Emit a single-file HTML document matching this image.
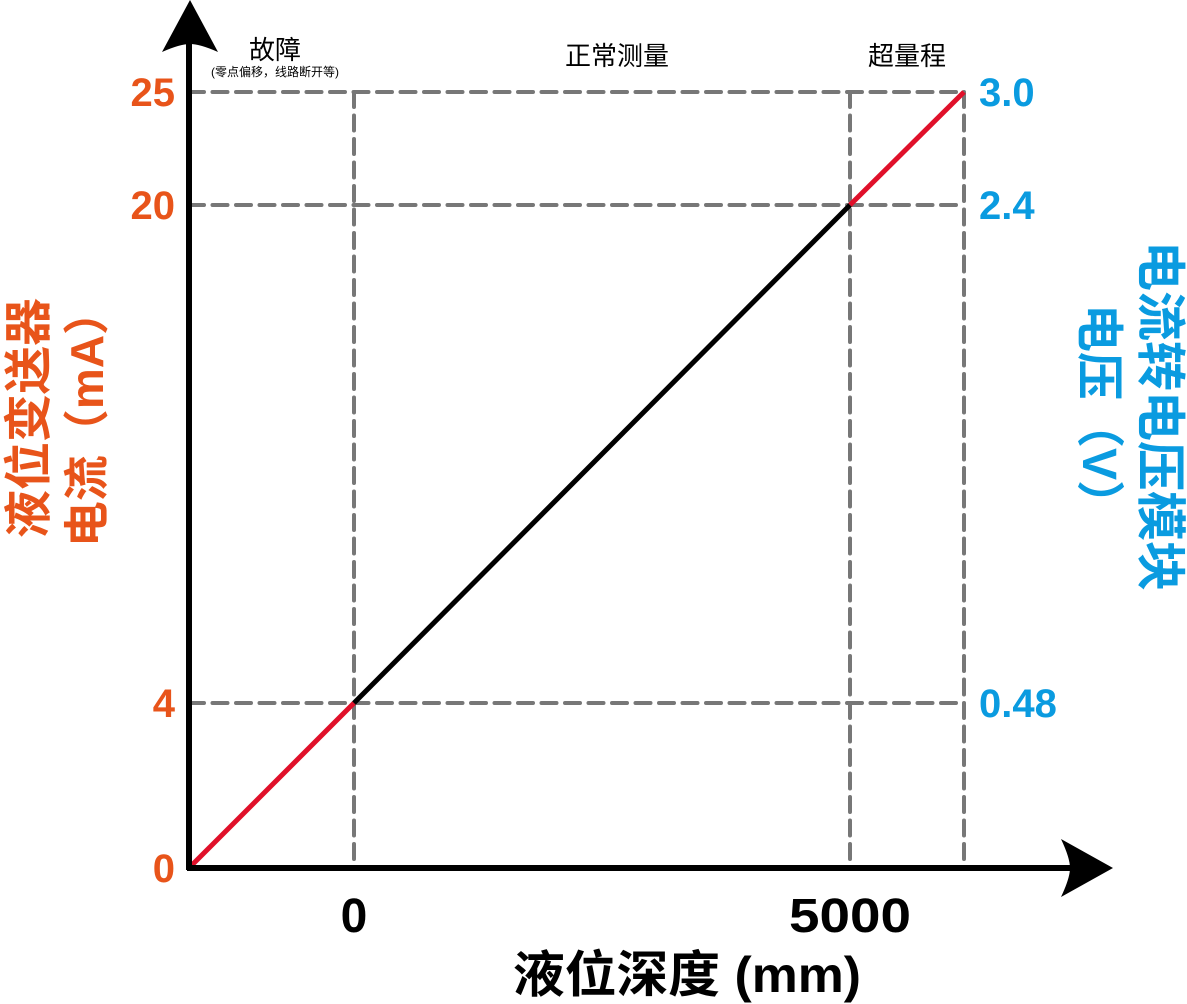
<!DOCTYPE html>
<html><head><meta charset="utf-8"><style>
html,body{margin:0;padding:0;background:#fff;}
svg{display:block;font-family:"Liberation Sans","Noto Sans CJK SC",sans-serif;}
</style></head><body>
<svg id="chart" width="1187" height="1004" viewBox="0 0 1187 1004">
<g id="grid"></g>
<g id="series"></g>
<g id="axes"></g>
<g id="labels"></g>
</svg>
<script>
// Data
const yTickValues = [0, 4, 20, 25];
const yTickLabels = ["0", "4", "20", "25"];
const voltTickLabels = ["0.48", "2.4", "3.0"];
const voltTickCurrents = [4, 20, 25];
const xTickValues = [0, 5000];
const xTickLabels = ["0", "5000"];
const lineDepth = [-1250, 0, 5000, 6562.5];
const lineCurrent = [0, 4, 20, 25];
const lineSegColors = ["#e0102a", "#000000", "#e0102a"];
const regionNames = ["故障", "正常测量", "超量程"];

// schematic piecewise axes
function piece(dom, rng){return v=>{for(let i=0;i<dom.length-1;i++){if(v<=dom[i+1]||i===dom.length-2){const t=(v-dom[i])/(dom[i+1]-dom[i]);return rng[i]+t*(rng[i+1]-rng[i]);}}};}
const yScale = piece([0,4,20,25],[868,703,205,92]);
const xScale = piece([-1250,0,5000,6562.5],[189,354,850,964]);
const NS="http://www.w3.org/2000/svg";
function mk(tag,attrs,parent,text){const e=document.createElementNS(NS,tag);for(const k in attrs)e.setAttribute(k,attrs[k]);if(text!==undefined)e.textContent=text;parent.appendChild(e);return e;}
const grid=document.getElementById('grid'),series=document.getElementById('series'),axes=document.getElementById('axes'),labels=document.getElementById('labels');
const dash={stroke:"#777","stroke-width":4,"stroke-dasharray":"15 8.5","stroke-linecap":"round",fill:"none"};
const xMin=xScale(lineDepth[0]), xMax=xScale(lineDepth[3]), yTop=yScale(25), y0=yScale(0);
yTickValues.forEach((v,i)=>{ if(v===0)return;
 const l=mk('line',Object.assign({x1:xMin,x2:xMax,y1:yScale(v),y2:yScale(v)},dash),grid);
 
 
});
[0,5000,6562.5].forEach(d=>{
 const l=mk('line',Object.assign({x1:xScale(d),x2:xScale(d),y1:yTop,y2:y0},dash),grid);
 
 
});
for(let i=0;i<lineDepth.length-1;i++){
 const l=mk('line',{x1:xScale(lineDepth[i]),y1:yScale(lineCurrent[i]),x2:xScale(lineDepth[i+1]),y2:yScale(lineCurrent[i+1]),stroke:lineSegColors[i],"stroke-width":5},series);
 
 
}
let a=mk('line',{x1:189,y1:870,x2:189,y2:40,stroke:"#000","stroke-width":6},axes);

a=mk('line',{x1:187,y1:868,x2:1080,y2:868,stroke:"#000","stroke-width":6},axes);

a=mk('path',{d:"M190,0 L218,52 Q200,44 190,44 Q180,44 162,52 Z",fill:"#000"},axes);

a=mk('path',{d:"M1113,868 L1061,897 Q1070,878 1070,868 Q1070,858 1061,839 Z",fill:"#000"},axes);

yTickValues.forEach((v,i)=>{
 const t=mk('text',{x:175,y:yScale(v)+14,"text-anchor":"end","font-size":40,"font-weight":"bold",fill:"#e8541a"},labels,yTickLabels[i]);
 
 
});
voltTickCurrents.forEach((c,i)=>{
 const t=mk('text',{x:979,y:yScale(c)+14,"font-size":40,"font-weight":"bold",fill:"#0a9be0"},labels,voltTickLabels[i]);
 
 
});
xTickValues.forEach((v,i)=>{
 const attrs={x:xScale(v),y:932,"text-anchor":"middle","font-size":48,"font-weight":"bold",fill:"#000"};
 if(xTickLabels[i].length>1){attrs.textLength=122;attrs.lengthAdjust="spacingAndGlyphs";}
 const t=mk('text',attrs,labels,xTickLabels[i]);
 
 
});
const regX=[275,617,907];
regionNames.forEach((n,i)=>{
 const t=mk('text',{x:regX[i],y:i===0?59:65,"text-anchor":"middle","font-size":26,fill:"#000"},labels,n);
 
 
});
let t=mk('text',{x:275,y:76,"text-anchor":"middle","font-size":12,fill:"#000"},labels,"(零点偏移，线路断开等)");

t=mk('text',{x:513,y:992,"font-size":50,"font-weight":"bold",fill:"#000",textLength:348,lengthAdjust:"spacingAndGlyphs"},labels,"液位深度 (mm)");

t=mk('text',{x:-418,y:45,"text-anchor":"middle","font-size":48,"font-weight":"bold",fill:"#e8541a",transform:"rotate(-90)"},labels,"液位变送器");

t=mk('text',{x:-418,y:103,"text-anchor":"middle","font-size":46,"font-weight":"bold",fill:"#e8541a",transform:"rotate(-90)"},labels,"电流（mA）");

t=mk('text',{x:416,y:-1143,"text-anchor":"middle","font-size":50,"font-weight":"bold",fill:"#0a9be0",transform:"rotate(90)"},labels,"电流转电压模块");

t=mk('text',{x:416,y:-1083,"text-anchor":"middle","font-size":48,"font-weight":"bold",fill:"#0a9be0",transform:"rotate(90)"},labels,"电压（V）");

</script>
</body></html>
